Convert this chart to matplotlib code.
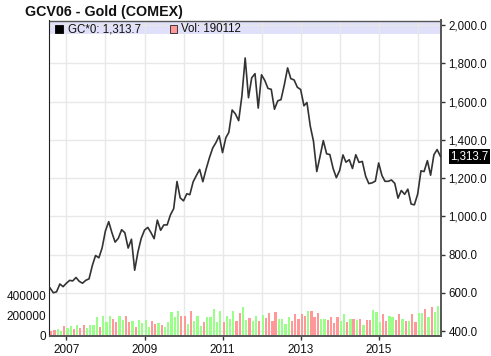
import datetime as dt
import numpy as np
import pandas as pd
import matplotlib
matplotlib.use("Agg")
import matplotlib.pyplot as plt
import matplotlib.dates as mdates
from matplotlib.patches import Rectangle
from matplotlib.ticker import FixedLocator, FuncFormatter
from matplotlib.transforms import blended_transform_factory

plt.rcParams["font.family"] = ["Liberation Sans", "DejaVu Sans"]

# monthly closes, Aug 2006 .. Aug 2016
months = pd.date_range("2006-08-01", periods=121, freq="MS").to_pydatetime()
price = [
    625, 600, 605, 646, 632,
    650, 665, 662, 680, 660, 650, 665, 673, 743, 795, 783, 834,
    923, 972, 916, 865, 885, 930, 914, 834, 880, 718, 815, 884,
    928, 942, 916, 883, 980, 927, 955, 955, 1008, 1040, 1182, 1096,
    1081, 1118, 1113, 1180, 1213, 1245, 1181, 1248, 1307, 1357, 1386, 1421,
    1333, 1411, 1439, 1556, 1536, 1500, 1628, 1828, 1620, 1724, 1746, 1566,
    1740, 1710, 1669, 1664, 1560, 1604, 1610, 1687, 1776, 1720, 1713, 1675,
    1663, 1578, 1595, 1472, 1393, 1234, 1312, 1396, 1327, 1323, 1250, 1202,
    1240, 1321, 1283, 1296, 1250, 1322, 1282, 1287, 1210, 1171, 1175, 1184,
    1279, 1213, 1183, 1183, 1190, 1172, 1095, 1135, 1115, 1142, 1064, 1060,
    1116, 1238, 1234, 1291, 1215, 1322, 1349, 1313.7,
]
volume = [
    50000, 57000, 67000, 50000, 100000, 80000, 100000, 67000, 113000, 80000,
    113000, 80000, 113000, 113000, 190000, 90000, 200000, 140000, 200000, 167000,
    140000, 200000, 157000, 200000, 140000, 147000, 90000, 157000, 133000, 157000,
    90000, 147000, 123000, 133000, 113000, 90000, 140000, 233000, 190000, 247000,
    200000, 200000, 123000, 247000, 147000, 200000, 100000, 140000, 190000, 190000,
    267000, 140000, 247000, 140000, 200000, 173000, 247000, 147000, 223000, 283000,
    160000, 180000,
    147000, 200000, 147000, 207000, 180000, 223000, 147000, 233000, 167000, 173000,
    123000, 190000, 147000, 213000, 173000, 213000, 200000, 247000, 247000, 190000,
    223000, 167000, 167000, 157000, 190000, 133000, 190000, 150000, 213000, 140000,
    173000, 173000, 157000, 173000, 113000, 157000, 163000, 257000, 240000, 140000,
    217000, 147000, 200000, 183000, 157000, 213000, 167000, 147000, 147000, 213000,
    140000, 223000, 223000, 267000, 190000, 290000, 233000, 300000, 190112,
]
price_ticks = [400, 600, 800, 1000, 1200, 1400, 1600, 1800, 2000]
volume_ticks = [0, 200000, 400000]
year_labels = [2007, 2009, 2011, 2013, 2015]

UP, DOWN = "#99FF88", "#FF9999"
GRID = "#E8E8E8"
bar_colors = [DOWN] + [UP if price[i] >= price[i - 1] else DOWN
                       for i in range(1, len(price))]

fig = plt.figure(figsize=(4.91, 3.56), dpi=100)
ax_v = fig.add_axes([49.5 / 491, 1 - 336 / 356, 392 / 491, 315.5 / 356])
ax_v.set_facecolor("white")
ax_p = ax_v.twinx()
ax_p.set_ylim(374, 2024)

# legend band behind the grid
ax_v.add_patch(Rectangle((0.002, 0.956), 0.995, 0.040, transform=ax_v.transAxes,
                         facecolor="#E0E0FA", edgecolor="none", zorder=0.2))

# price grid drawn on the volume axes so the bars sit on top of it
tr_grid = blended_transform_factory(ax_v.transAxes, ax_p.transData)
for p in price_ticks:
    ax_v.plot([0, 1], [p, p], transform=tr_grid, color=GRID, linewidth=1.0,
              zorder=0.5)

ax_v.bar(months, volume, width=21, align="edge", color=bar_colors,
         linewidth=0, zorder=2)
ax_v.set_ylim(0, 3.12e6)
ax_v.yaxis.set_major_locator(FixedLocator(volume_ticks))
ax_v.yaxis.set_major_formatter(FuncFormatter(lambda v, p: f"{int(v)}"))
ax_v.tick_params(axis="y", length=0, pad=2.5, labelsize=8.5, colors="#111111")

x0 = mdates.date2num(months[0]) - 5
x1 = mdates.date2num(months[-1]) + 10
ax_v.set_xlim(x0, x1)
ax_v.xaxis.set_major_locator(FixedLocator(
    [mdates.date2num(dt.datetime(y, 1, 1)) for y in year_labels]))
ax_v.xaxis.set_major_formatter(mdates.DateFormatter("%Y"))
ax_v.xaxis.set_minor_locator(mdates.YearLocator(1))
ax_v.tick_params(axis="x", which="major", length=3, width=1, pad=2.5,
                 labelsize=8.5, colors="#333333", labelcolor="#111111")
ax_v.tick_params(axis="x", which="minor", length=0)
ax_v.grid(axis="x", which="both", color=GRID, linewidth=1.0)
ax_v.set_axisbelow(True)
for s in ax_v.spines.values():
    s.set_visible(False)

ax_p.plot(months, price, color="#333333", linewidth=1.2, zorder=3)
ax_p.yaxis.set_major_locator(FixedLocator(price_ticks))
ax_p.yaxis.set_major_formatter(FuncFormatter(lambda v, p: f"{v:,.1f}"))
ax_p.tick_params(axis="y", length=3, width=1, pad=2, labelsize=8.3,
                 colors="#333333", labelcolor="#111111")
ax_p.spines["left"].set_color("#222222")
ax_p.spines["left"].set_linewidth(0.8)
ax_p.spines["top"].set_color("#555555")
ax_p.spines["top"].set_linewidth(1.0)
ax_p.spines["right"].set_color("#555555")
ax_p.spines["right"].set_linewidth(1.4)
ax_p.spines["bottom"].set_color("#555555")
ax_p.spines["bottom"].set_linewidth(1.4)

# last value flag
tr = blended_transform_factory(ax_p.transAxes, ax_p.transData)
ax_p.text(1.0 + 8.5 / 392, price[-1], f"{price[-1]:,.1f}", transform=tr,
          ha="left", va="center", fontsize=8.3, color="white", clip_on=False,
          bbox=dict(boxstyle="square,pad=0.12", facecolor="black",
                    edgecolor="none"))

# title and legend text
fig.text(25 / 491, 1 - 12 / 356, "GCV06 - Gold (COMEX)", fontsize=10.3,
         fontweight="bold", ha="left", va="center", color="#111111")
fig.patches.append(Rectangle((55 / 491, 1 - 33 / 356), 7.5 / 491, 7.5 / 356,
                             transform=fig.transFigure, facecolor="black",
                             edgecolor="black", linewidth=0.6))
fig.text(68 / 491, 1 - 29.5 / 356, f"GC*0: {price[-1]:,.1f}", fontsize=8.3,
         ha="left", va="center", color="#111111")
fig.patches.append(Rectangle((169.5 / 491, 1 - 33 / 356), 7.5 / 491, 7.5 / 356,
                             transform=fig.transFigure, facecolor="#FF9999",
                             edgecolor="#222222", linewidth=0.6))
fig.text(181 / 491, 1 - 29.5 / 356, f"Vol: {volume[-1]}", fontsize=8.3,
         ha="left", va="center", color="#111111")

fig.savefig("out.png", dpi=100, facecolor="white")
